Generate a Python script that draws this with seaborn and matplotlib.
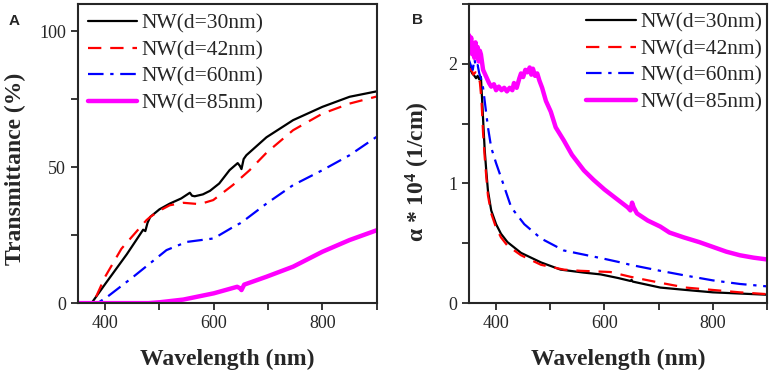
import matplotlib
matplotlib.use("Agg")
import matplotlib.pyplot as plt
import seaborn as sns
from matplotlib.ticker import MultipleLocator

# Panel A: transmittance (%)
wl_a30 = [350, 375, 400, 440, 470, 474, 478, 483, 500, 519, 540, 556, 560, 565, 580, 593, 610,
          629, 644, 648, 651, 655, 660, 697, 746, 800, 850, 900]
t_a30 = [0, 0, 7, 18, 27, 26.5, 29.5, 31.7, 34.5, 36.6, 38.5, 40.6, 39.5, 39.3, 40, 41.3, 44,
         48.9, 51.5, 50.5, 49.3, 53, 54.4, 61, 67.3, 72.2, 75.9, 77.9]
wl_a42 = [350, 378, 400, 430, 476, 483, 500, 519, 544, 574, 599, 635, 666, 697, 746, 800, 850, 900]
t_a42 = [0, 0, 9.7, 20, 30.5, 31.7, 34, 36, 36.9, 36.4, 37.9, 43.4, 48.9, 55.3, 63.6, 69.7, 73.4, 76]
wl_a60 = [350, 385, 400, 452, 513, 550, 600, 640, 648, 660, 697, 746, 800, 850, 900]
t_a60 = [0, 0, 1.7, 9.7, 19.5, 22.5, 23.8, 28.5, 29.3, 31, 36.6, 43.4, 48.9, 54.4, 61.2]
wl_a85 = [350, 480, 500, 544, 600, 643, 648, 651, 656, 697, 746, 800, 850, 900]
t_a85 = [0, 0, 0.3, 1.3, 3.6, 6, 5.5, 4.8, 6.8, 9.7, 13.4, 18.9, 23.2, 26.8]

# Panel B: absorption coefficient (x 10^4 1/cm)
wl_b30 = [350, 353, 356, 360, 363, 366, 369, 372, 374, 377, 379, 382, 385, 391, 400, 409, 421,
          446, 483, 519, 562, 593, 625, 648, 650, 652, 703, 750, 800, 850, 900]
a_b30 = [2.01, 1.95, 1.92, 1.90, 1.88, 1.90, 1.87, 1.89, 1.72, 1.45, 1.28, 1.10, 0.94, 0.775, 0.66,
         0.58, 0.51, 0.42, 0.34, 0.28, 0.255, 0.24, 0.21, 0.185, 0.195, 0.18, 0.13, 0.11, 0.09, 0.08, 0.07]
wl_b42 = [350, 354, 358, 362, 366, 370, 373, 376, 379, 382, 385, 391, 400, 409, 421, 446, 483,
          525, 556, 611, 648, 703, 750, 800, 850, 900]
a_b42 = [1.94, 1.96, 1.91, 1.93, 1.88, 1.85, 1.70, 1.42, 1.22, 1.05, 0.90, 0.75, 0.63, 0.55, 0.48,
         0.40, 0.32, 0.28, 0.27, 0.26, 0.22, 0.17, 0.13, 0.11, 0.09, 0.075]
wl_b60 = [350, 354, 357, 360, 363, 366, 369, 372, 376, 379, 385, 391, 400, 410, 428, 452, 483,
          525, 600, 630, 648, 703, 750, 800, 850, 900]
a_b60 = [2.03, 1.98, 1.95, 2.04, 1.97, 1.99, 1.92, 1.88, 1.80, 1.69, 1.47, 1.30, 1.17, 1.04, 0.80,
         0.66, 0.54, 0.44, 0.37, 0.34, 0.32, 0.27, 0.23, 0.19, 0.16, 0.14]
wl_b85 = [350, 352, 354, 356, 358, 360, 362, 364, 366, 368, 370, 372, 376, 382, 387, 391, 396,
          400, 405, 410, 415, 420, 425, 430, 433, 438, 443, 446, 450, 454, 458, 462, 465, 468,
          472, 476, 480, 485, 492, 501, 510, 525, 540, 562, 580, 600, 620, 643, 648, 651, 654,
          660, 680, 703, 720, 746, 775, 800, 825, 850, 875, 900]
a_b85 = [2.24, 2.15, 2.22, 2.08, 2.13, 2.05, 2.18, 2.10, 2.14, 2.02, 2.11, 2.08, 1.95, 1.89, 1.84,
         1.81, 1.83, 1.78, 1.81, 1.78, 1.80, 1.77, 1.80, 1.78, 1.84, 1.80, 1.88, 1.92, 1.89, 1.95,
         1.93, 1.97, 1.91, 1.96, 1.90, 1.92, 1.86, 1.80, 1.69, 1.60, 1.47, 1.36, 1.24, 1.11, 1.03,
         0.95, 0.88, 0.80, 0.775, 0.84, 0.80, 0.75, 0.69, 0.64, 0.59, 0.55, 0.51, 0.47, 0.43,
         0.40, 0.38, 0.365]

labels = ["NW(d=30nm)", "NW(d=42nm)", "NW(d=60nm)", "NW(d=85nm)"]
colors = ["#000000", "#ff0000", "#0000ff", "#ff00ff"]
dashes = ["-", (0, (6, 4)), (0, (7, 3, 1.5, 3)), "-"]
widths = [1.6, 1.6, 1.6, 3.2]

sns.set_style("ticks")
plt.rcParams["font.family"] = ["Liberation Serif", "DejaVu Serif"]
plt.rcParams["mathtext.fontset"] = "custom"
plt.rcParams["mathtext.rm"] = "Liberation Serif:bold"
plt.rcParams["mathtext.it"] = "Liberation Serif:bold"
plt.rcParams["mathtext.bf"] = "Liberation Serif:bold"

fig = plt.figure(figsize=(7.72, 3.71), dpi=100)
ax_a = fig.add_axes([0.101, 0.183, 0.387, 0.806])
ax_b = fig.add_axes([0.6075, 0.183, 0.386, 0.806])

series_a = [(wl_a30, t_a30), (wl_a42, t_a42), (wl_a60, t_a60), (wl_a85, t_a85)]
series_b = [(wl_b30, a_b30), (wl_b42, a_b42), (wl_b60, a_b60), (wl_b85, a_b85)]

for ax, series in [(ax_a, series_a), (ax_b, series_b)]:
    for (x, y), lab, c, d, w in zip(series, labels, colors, dashes, widths):
        sns.lineplot(x=x, y=y, ax=ax, color=c, linewidth=w, label=lab)
        ax.lines[-1].set_linestyle(d)
    ax.set_xlim(350, 900)
    ax.xaxis.set_major_locator(MultipleLocator(200))
    ax.xaxis.set_minor_locator(MultipleLocator(100))
    ax.set_xticks([400, 600, 800])
    ax.tick_params(which="both", direction="out", length=5, width=1.3, labelsize=13,
                   top=False, right=False)
    for s in ax.spines.values():
        s.set_linewidth(1.5)
        s.set_visible(True)
    ax.set_xlabel("Wavelength (nm)", fontsize=17, fontweight="bold", labelpad=12)

ax_a.set_ylim(0, 110)
ax_a.yaxis.set_major_locator(MultipleLocator(50))
ax_a.yaxis.set_minor_locator(MultipleLocator(25))
ax_a.set_ylabel("Transmittance (%)", fontsize=17, fontweight="bold")
ax_a.yaxis.set_label_coords(-0.175, 0.45)
ax_a.legend(loc="upper left", frameon=False, fontsize=15.5, handlelength=2.3,
            labelspacing=0.3, borderaxespad=0.05, handletextpad=0.2)

ax_b.set_ylim(0, 2.5)
ax_b.yaxis.set_major_locator(MultipleLocator(1))
ax_b.yaxis.set_minor_locator(MultipleLocator(0.5))
ax_b.set_ylabel(r"α * 10$^{4}$ (1/cm)", fontsize=17, fontweight="bold")
ax_b.yaxis.set_label_coords(-0.125, 0.44)
ax_b.legend(loc="upper right", bbox_to_anchor=(1.013, 1.0), frameon=False, fontsize=15.5,
            handlelength=2.3, labelspacing=0.3, borderaxespad=0.0, handletextpad=0.2)

fig.text(0.011, 0.933, "A", fontsize=11, fontweight="bold", family="Liberation Sans")
fig.text(0.534, 0.935, "B", fontsize=11, fontweight="bold", family="Liberation Sans")

fig.savefig("out.png", dpi=100)
